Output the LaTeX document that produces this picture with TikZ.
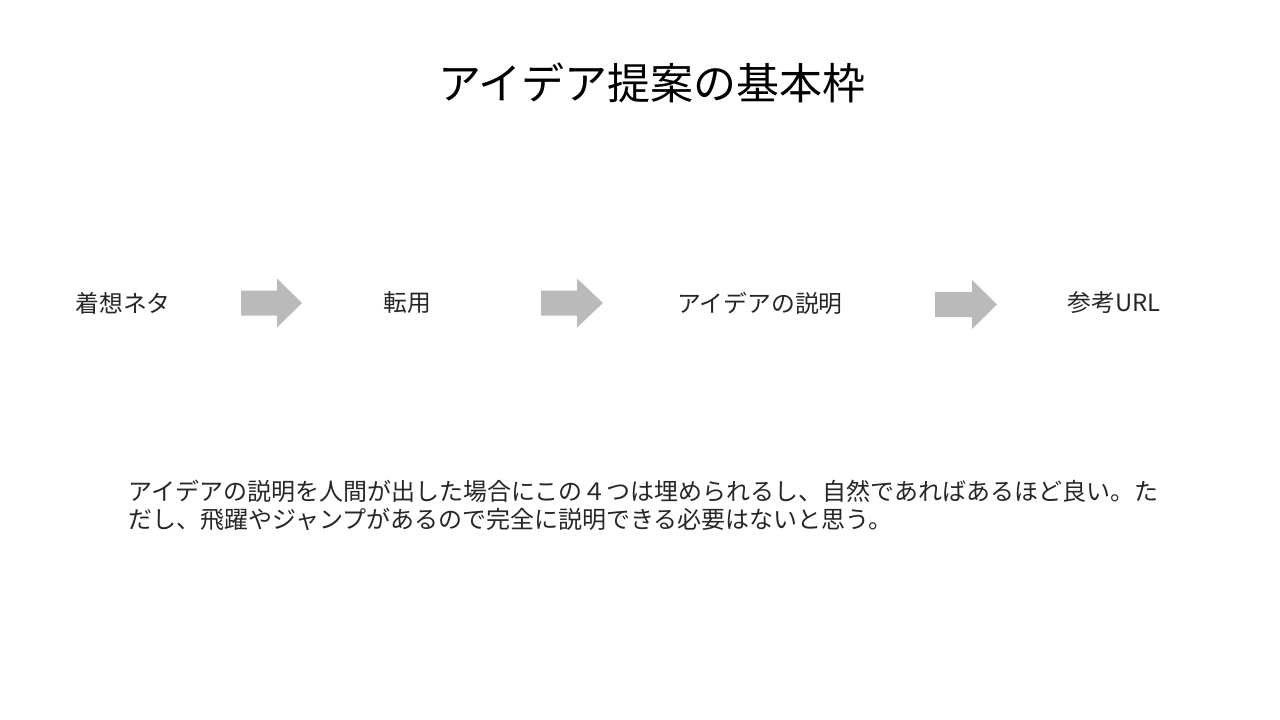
\documentclass[tikz,border=0pt]{standalone}
\usepackage{fontspec}
\setmainfont{Noto Sans CJK JP}
\newfontfamily\jpfont{Noto Sans CJK JP}
\begin{document}
\begin{tikzpicture}[x=1pt,y=-1pt,
  label/.style={font=\jpfont\fontsize{23.8}{28}\selectfont, inner sep=0pt, text=black!85},
  bodytext/.style={font=\jpfont\fontsize{24}{28}\selectfont, inner sep=0pt, anchor=west, text=black!85},
  blockarrow/.style={fill=black!27, draw=none}]
\useasboundingbox (0,0) rectangle (1280,720);
\fill[white] (0,0) rectangle (1280,720);
\node[font=\jpfont\fontsize{43}{48}\selectfont, inner sep=0pt] (title) at (652,83) {アイデア提案の基本枠};
\node[label] (n1) at (123,303) {着想ネタ};
\node[label] (n2) at (407,303) {転用};
\node[label] (n3) at (760,303) {アイデアの説明};
\node[label] (n4) at (1114,303) {参考URL};
% block arrows
\foreach \xa/\xb/\xc/\yc in {241/277/302/303, 541/577/603/303, 935/972/997/304.5}{
  \path[blockarrow] (\xa,\yc-12.5) -- (\xb,\yc-12.5) -- (\xb,\yc-24.5) -- (\xc,\yc) -- (\xb,\yc+24.5) -- (\xb,\yc+12.5) -- (\xa,\yc+12.5) -- cycle;
}
\node[bodytext] (l1) at (128,491) {アイデアの説明を人間が出した場合にこの４つは埋められるし、自然であればあるほど良い。た};
\node[bodytext] (l2) at (128,519) {だし、飛躍やジャンプがあるので完全に説明できる必要はないと思う。};
\end{tikzpicture}
\end{document}
